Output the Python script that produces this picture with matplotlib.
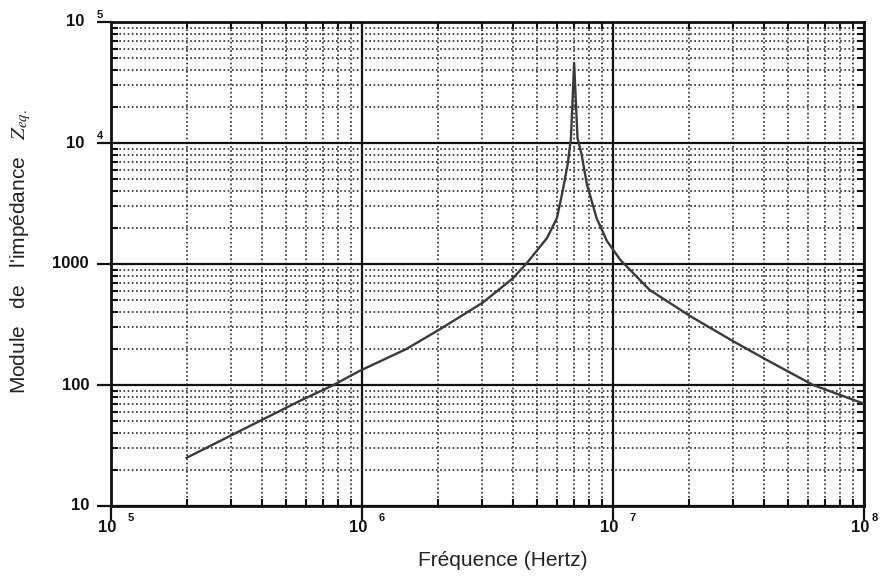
import numpy as np
import matplotlib.pyplot as plt
from matplotlib.ticker import LogLocator, NullFormatter
from matplotlib.transforms import blended_transform_factory, ScaledTranslation

plt.rcParams['font.family'] = ['Liberation Sans', 'DejaVu Sans']
plt.rcParams['mathtext.fontset'] = 'stix'

# Valeurs (fréquence en Hz, module en ohms)
freq = [2e5, 3.06e5, 5.66e5, 7.7e5, 9.8e5, 1.5e6, 2.05e6, 3.03e6, 4.0e6, 4.54e6,
        5.46e6, 5.98e6, 6.3e6, 6.6e6, 6.8e6, 7.0e6, 7.22e6, 7.5e6, 7.87e6, 8.6e6,
        9.46e6, 1.07e7, 1.4e7, 2.03e7, 3.0e7, 4.1e7, 6.27e7, 1e8]
module = [25, 39, 74, 100, 131, 198, 290, 480, 765, 1020,
          1640, 2400, 4000, 6700, 11000, 46000, 11000, 8000, 4560, 2400,
          1550, 1080, 610, 371, 231, 161, 100, 70]

x_ticks = [1e5, 1e6, 1e7, 1e8]
x_exp = ['5', '6', '7', '8']
y_ticks = [10, 100, 1000, 1e4, 1e5]
y_labels = ['10', '100', '1000', '10', '10']
y_exp = ['', '', '', '4', '5']

fig = plt.figure(figsize=(8.8, 5.85), dpi=100)
ax = fig.add_axes([111 / 880, 1 - 506 / 585, 753 / 880, 484 / 585])
ax.set_xscale('log')
ax.set_yscale('log')
ax.set_xlim(1e5, 1e8)
ax.set_ylim(10, 1e5)

ax.xaxis.set_minor_locator(LogLocator(base=10, subs=np.arange(2, 10)))
ax.yaxis.set_minor_locator(LogLocator(base=10, subs=np.arange(2, 10)))
ax.set_xticks(x_ticks)
ax.set_yticks(y_ticks)
ax.set_xticklabels([])
ax.set_yticklabels([])
ax.xaxis.set_minor_formatter(NullFormatter())
ax.yaxis.set_minor_formatter(NullFormatter())

# grille : décades en trait plein, le reste en pointillé
ax.grid(True, which='major', color='#111111', lw=1.6, ls='-')
ax.grid(True, which='minor', color='#2a2a2a', lw=1.2, ls=(0, (1, 1.5)))
ax.set_axisbelow(True)

ax.tick_params(which='major', direction='out', length=10, width=1.6, color='#111111',
               top=False, right=False)
ax.tick_params(which='minor', direction='in', length=5, width=1.5, color='#111111',
               top=True, right=True)
for s in ax.spines.values():
    s.set_linewidth(2.0)
    s.set_color('#111111')

ax.plot(freq, module, color='#3a3a3a', lw=1.7, zorder=5)

# étiquettes des graduations (style "10  5")
tx = blended_transform_factory(ax.transData, ax.transAxes)
for i, (v, e) in enumerate(zip(x_ticks, x_exp)):
    ax.text(v, 0, '10', transform=tx + ScaledTranslation(-4 / 100, -22 / 100, fig.dpi_scale_trans),
            ha='center', va='center', fontsize=12, fontweight='bold', color='#111111', clip_on=False)
    # le dernier exposant est rapproché pour rester dans l'image
    dx = 20 if i < len(x_ticks) - 1 else 11
    ax.text(v, 0, e, transform=tx + ScaledTranslation(dx / 100, -12 / 100, fig.dpi_scale_trans),
            ha='center', va='center', fontsize=8, fontweight='bold', color='#111111', clip_on=False)

ty = blended_transform_factory(ax.transAxes, ax.transData)
for v, lab, e in zip(y_ticks, y_labels, y_exp):
    if e:
        ax.text(0, v, lab, transform=ty + ScaledTranslation(-27 / 100, 0, fig.dpi_scale_trans),
                ha='right', va='center', fontsize=12, fontweight='bold', color='#111111')
        ax.text(0, v, e, transform=ty + ScaledTranslation(-11 / 100, 7 / 100, fig.dpi_scale_trans),
                ha='center', va='center', fontsize=8, fontweight='bold', color='#111111')
    else:
        ax.text(0, v, lab, transform=ty + ScaledTranslation(-22 / 100, 0, fig.dpi_scale_trans),
                ha='right', va='center', fontsize=12, fontweight='bold', color='#111111')

fig.text(503 / 880, 1 - 560 / 585, 'Fréquence (Hertz)', ha='center', va='center',
         fontsize=15, color='#222222')
fig.text(21 / 880, 1 - 252 / 585, "Module   de   l'impédance   $Z_{eq.}$", ha='center', va='center',
         rotation=90, fontsize=15, color='#222222')

fig.savefig('out.png', dpi=100)
